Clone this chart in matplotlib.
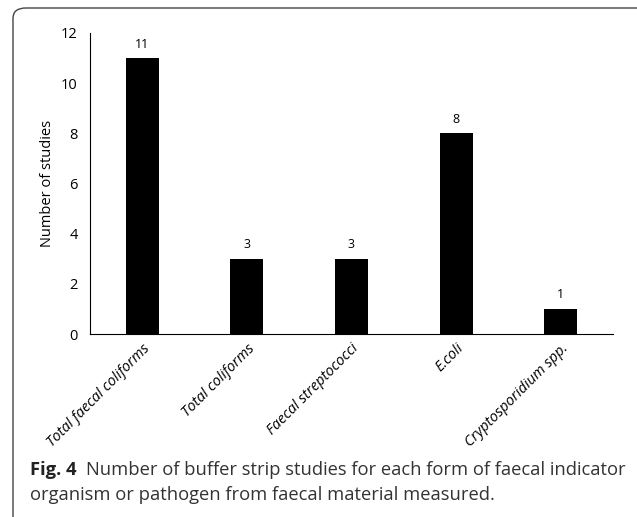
import matplotlib.pyplot as plt
from matplotlib.patches import FancyBboxPatch

categories = ["Total faecal coliforms", "Total coliforms", "Faecal streptococci",
              "E.coli", "Cryptosporidium spp."]
studies = [11, 3, 3, 8, 1]

W, H = 637, 517
fig = plt.figure(figsize=(W / 100, H / 100), dpi=100)
fig.patch.set_facecolor("white")

# rounded frame around the figure panel
frame = FancyBboxPatch((13 / W, -20 / H), 640 / W, (H - 8 + 20) / H,
                       boxstyle="round,pad=0,rounding_size=0.02",
                       transform=fig.transFigure, fill=False,
                       edgecolor="#444444", linewidth=1.0)
fig.patches.append(frame)

ax = fig.add_axes([90 / W, 1 - 334 / H, 523 / W, 301 / H])
x = range(len(categories))
bars = ax.bar(x, studies, width=0.315, color="black")
for b, v in zip(bars, studies):
    ax.text(b.get_x() + b.get_width() / 2, v + 0.3, str(v),
            ha="center", va="bottom", fontsize=9, family="Open Sans")

ax.set_xlim(-0.5, 4.5)
ax.set_ylim(0, 12)
ax.set_yticks(range(0, 13, 2))
ax.set_xticks(list(x))
ax.set_xticklabels(categories, rotation=45, ha="right", rotation_mode="anchor",
                   fontstyle="italic", fontsize=10.5, family="Open Sans")
ax.tick_params(axis="both", length=0)
ax.tick_params(axis="y", pad=9, labelsize=10.5)
ax.tick_params(axis="x", pad=5)
for lab in ax.get_yticklabels():
    lab.set_family("Open Sans")
ax.spines["top"].set_visible(False)
ax.spines["right"].set_visible(False)
ax.set_ylabel("Number of studies", fontsize=10.5, family="Open Sans", labelpad=4)

# caption: bold "Fig. 4" followed by normal text
cap_size = 13.2
t = fig.text(30 / W, 1 - 470 / H, "Fig. 4", fontsize=cap_size, va="center",
             fontweight="bold", family="Open Sans", color="#222222")
fig.canvas.draw()
bb = t.get_window_extent()
fig.text(bb.x1 / W + 9 / W, 1 - 470 / H,
         "Number of buffer strip studies for each form of faecal indicator",
         fontsize=cap_size, va="center", family="Open Sans", color="#333333")
fig.text(30 / W, 1 - 495 / H, "organism or pathogen from faecal material measured.",
         fontsize=cap_size, va="center", family="Open Sans", color="#333333")

fig.savefig("out.png", dpi=100)
